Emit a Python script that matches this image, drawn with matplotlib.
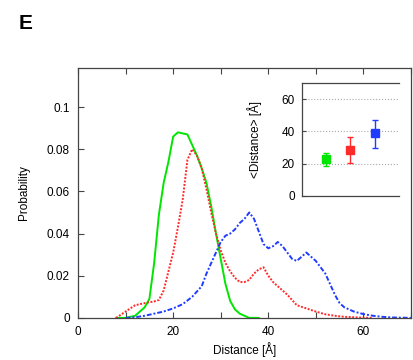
import matplotlib
matplotlib.use('Agg')
import matplotlib.pyplot as plt
from matplotlib.ticker import MultipleLocator

plt.rcParams['font.family'] = ['Liberation Sans', 'DejaVu Sans']

# distance distributions (Angstrom, probability)
green_x = [8, 10, 12, 14, 15, 16, 17, 18, 19, 20, 21, 22, 23, 24, 25, 26, 27, 28,
           29, 30, 31, 32, 33, 34, 35, 36, 38]
green_y = [0, 0, 0.001, 0.005, 0.009, 0.026, 0.049, 0.064, 0.074, 0.086, 0.088,
           0.0875, 0.087, 0.082, 0.077, 0.071, 0.064, 0.053, 0.040, 0.028, 0.016,
           0.008, 0.004, 0.002, 0.001, 0.0, 0]

red_x = [8, 10, 12, 14, 16, 17, 18, 19, 20, 21, 22, 23, 24, 25, 26, 27, 28, 29, 30,
         31, 32, 33, 34, 35, 36, 37, 38, 39, 40, 41, 42, 43, 44, 46, 48, 50, 52, 54,
         56, 58, 60, 62]
red_y = [0, 0.003, 0.006, 0.007, 0.0078, 0.0085, 0.013, 0.022, 0.031, 0.043, 0.056,
         0.075, 0.080, 0.077, 0.071, 0.061, 0.050, 0.040, 0.032, 0.026, 0.022, 0.019,
         0.017, 0.017, 0.018, 0.021, 0.023, 0.024, 0.020, 0.017, 0.015, 0.013, 0.011,
         0.006, 0.0045, 0.003, 0.0017, 0.001, 0.0005, 0.0003, 0.0001, 0]

blue_x = [10, 12, 14, 16, 18, 20, 22, 24, 25, 26, 27, 28, 29, 30, 31, 32, 33, 34, 35,
          36, 37, 38, 39, 40, 41, 42, 43, 44, 45, 46, 47, 48, 49, 50, 51, 52, 53, 54,
          55, 56, 58, 60, 62, 64, 66, 68, 70]
blue_y = [0, 0.0003, 0.001, 0.002, 0.003, 0.0045, 0.0065, 0.010, 0.0125, 0.015, 0.021,
          0.026, 0.031, 0.036, 0.039, 0.040, 0.042, 0.045, 0.047, 0.050, 0.047, 0.041,
          0.035, 0.033, 0.034, 0.036, 0.034, 0.031, 0.028, 0.027, 0.029, 0.031, 0.029,
          0.027, 0.024, 0.021, 0.016, 0.011, 0.007, 0.005, 0.003, 0.0018, 0.001,
          0.0005, 0.0002, 0.0001, 0]

# mean distances for the inset
mean_pos = [1, 2, 3]
mean_val = [22.8, 28.5, 38.8]
err_low = [18.6, 20.2, 29.5]
err_high = [26.8, 36.3, 47.0]

green = '#00e600'
red = '#ff2a2a'
blue = '#1f3cff'

fig = plt.figure(figsize=(4.13, 3.6), dpi=100)
ax = fig.add_axes([0.189, 0.117, 0.806, 0.694])

ax.plot(green_x, green_y, color=green, lw=1.4, ls='-')
ax.plot(red_x, red_y, color=red, lw=1.4, ls=(0, (1, 0.8)))
ax.plot(blue_x, blue_y, color=blue, lw=1.4, ls=(0, (2.5, 1, 1, 1)))

ax.set_xlim(0, 70)
ax.set_ylim(0, 0.1185)
ax.xaxis.set_major_locator(MultipleLocator(20))
ax.xaxis.set_minor_locator(MultipleLocator(10))
ax.set_yticks([0, 0.02, 0.04, 0.06, 0.08, 0.1])
ax.set_yticklabels(['0', '0.02', '0.04', '0.06', '0.08', '0.1'])
ax.tick_params(which='both', direction='in', top=True, right=False, labelsize=8.5,
               length=4, width=0.8, color='#444444', pad=6)
for s in ax.spines.values():
    s.set_color('#444444')
    s.set_linewidth(0.9)
ax.set_xlabel('Distance [Å]', fontsize=8.5, labelpad=3)
ax.set_ylabel('Probability', fontsize=8.5, labelpad=12)

fig.text(0.044, 0.935, 'E', fontsize=15, fontweight='bold', ha='left', va='center')

# inset
ins = fig.add_axes([0.731, 0.456, 0.235, 0.313])
lo = [m - l for m, l in zip(mean_val, err_low)]
hi = [h - m for m, h in zip(mean_val, err_high)]
for i, c in enumerate([green, red, blue]):
    ins.errorbar([mean_pos[i]], [mean_val[i]], yerr=[[lo[i]], [hi[i]]], fmt='s',
                 color=c, ms=5.5, elinewidth=1, capsize=2, capthick=1)
ins.set_xlim(0, 4)
ins.set_ylim(0, 70)
ins.set_yticks([0, 20, 40, 60])
ins.set_xticks([])
ins.yaxis.grid(True, ls=':', color='#aaaaaa', lw=0.8)
ins.set_axisbelow(True)
ins.spines['right'].set_visible(False)
for s in ['left', 'top', 'bottom']:
    ins.spines[s].set_color('#444444')
    ins.spines[s].set_linewidth(0.9)
ins.tick_params(direction='in', labelsize=8.5, length=3, color='#444444', pad=5)
ins.set_ylabel('<Distance> [Å]', fontsize=8.5, labelpad=14)

fig.savefig('out.png', dpi=100, facecolor='white')
